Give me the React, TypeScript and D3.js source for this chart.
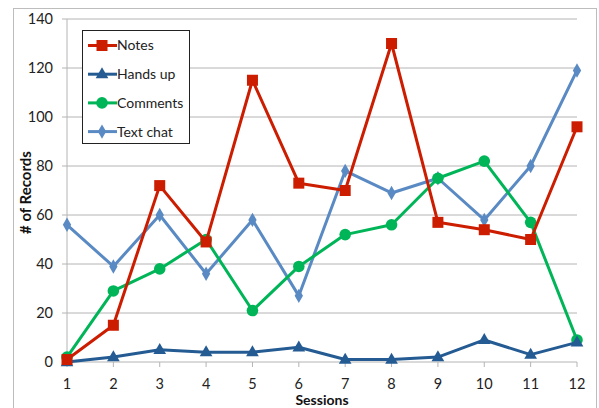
import React from "react";
import * as d3 from "d3";

const sessions = [1, 2, 3, 4, 5, 6, 7, 8, 9, 10, 11, 12];
const notes = [1, 15, 72, 49, 115, 73, 70, 130, 57, 54, 50, 96];
const handsUp = [0, 2, 5, 4, 4, 6, 1, 1, 2, 9, 3, 8];
const comments = [2, 29, 38, 50, 21, 39, 52, 56, 75, 82, 57, 9];
const textChat = [56, 39, 60, 36, 58, 27, 78, 69, 75, 58, 80, 119];
const yTicks = [0, 20, 40, 60, 80, 100, 120, 140];

const series = [
  { name: "Notes", values: notes, color: "#cc1d00", marker: "square" },
  { name: "Hands up", values: handsUp, color: "#245b93", marker: "triangle" },
  { name: "Comments", values: comments, color: "#00b558", marker: "circle" },
  { name: "Text chat", values: textChat, color: "#5a8ac3", marker: "diamond" },
];

const FONT = "Lato, 'Open Sans', sans-serif";

function Marker({ type, x, y, color }: { type: string; x: number; y: number; color: string }) {
  if (type === "square") return <rect x={x - 5.5} y={y - 5.5} width={11} height={11} fill={color} />;
  if (type === "triangle")
    return <path d={d3.symbol(d3.symbolTriangle, 70)()!} transform={`translate(${x},${y + 0.5})`} fill={color} />;
  if (type === "circle") return <circle cx={x} cy={y} r={5.8} fill={color} />;
  return <path d={d3.symbol(d3.symbolDiamond, 60)()!} transform={`translate(${x},${y})`} fill={color} />;
}

export default function App() {
  const W = 599, H = 408;
  const x = d3.scaleLinear().domain([1, 12]).range([67, 577]);
  const y = d3.scaleLinear().domain([0, 140]).range([362, 19]);
  const line = d3.line<number>().x((_, i) => x(sessions[i])).y((d) => y(d));

  return (
    <svg width={W} height={H} style={{ position: "absolute", left: 0, top: 0 }}>
      <rect x={0} y={0} width={W} height={H} fill="#fff" />
      <rect x={13.5} y={8.5} width={583} height={410} fill="none" stroke="#bdbdbd" strokeWidth={1} />
      {yTicks.map((t) => (
        <g key={t}>
          {t > 0 && <line x1={67} x2={577} y1={y(t)} y2={y(t)} stroke="#b4b4b4" strokeWidth={1} />}
          <line x1={62} x2={67} y1={y(t)} y2={y(t)} stroke="#b4b4b4" />
          <text x={53} y={y(t)} dy="0.36em" textAnchor="end" fontFamily={FONT} fontSize={14.5} fill="#222">
            {t}
          </text>
        </g>
      ))}
      <line x1={67} x2={67} y1={y(140)} y2={y(0)} stroke="#b4b4b4" />
      <line x1={67} x2={577} y1={y(0)} y2={y(0)} stroke="#b4b4b4" />
      {sessions.map((s) => (
        <g key={s}>
          <line x1={x(s)} x2={x(s)} y1={y(0)} y2={y(0) + 5} stroke="#b4b4b4" />
          <text x={x(s)} y={388.5} textAnchor="middle" fontFamily={FONT} fontSize={14.5} fill="#222">
            {s}
          </text>
        </g>
      ))}
      <text x={322} y={405} textAnchor="middle" fontFamily={FONT} fontSize={14} fontWeight="bold" fill="#111">
        Sessions
      </text>
      <text
        transform={`translate(31,${y(70) + 2}) rotate(-90)`}
        textAnchor="middle"
        fontFamily={FONT}
        fontSize={15}
        fontWeight="bold"
        fill="#111"
      >
        # of Records
      </text>
      {[...series].reverse().map((s) => (
        <g key={s.name}>
          <path d={line(s.values)!} fill="none" stroke={s.color} strokeWidth={3} strokeLinejoin="round" />
          {s.values.map((v, i) => (
            <Marker key={i} type={s.marker} x={x(sessions[i])} y={y(v)} color={s.color} />
          ))}
        </g>
      ))}
      <rect x={82.5} y={30.5} width={107} height={113} fill="#fff" stroke="#222" strokeWidth={1} />
      {series.map((s, i) => {
        const ly = 45.5 + i * 28.7;
        return (
          <g key={s.name}>
            <line x1={88} x2={117} y1={ly} y2={ly} stroke={s.color} strokeWidth={3} />
            <Marker type={s.marker} x={102} y={ly} color={s.color} />
            <text x={117} y={ly} dy="0.35em" fontFamily={FONT} fontSize={14} fill="#222">
              {s.name}
            </text>
          </g>
        );
      })}
    </svg>
  );
}
